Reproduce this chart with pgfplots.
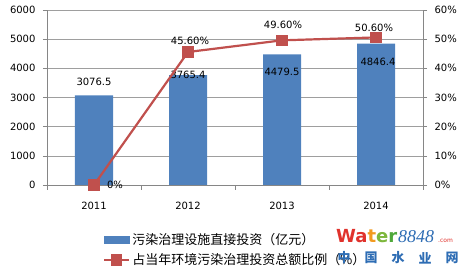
\documentclass[border=0pt]{standalone}
\usepackage{pgfplots}
\pgfplotsset{compat=1.18}
\usepackage{fontspec}
\setmainfont{DejaVu Sans}
\newfontfamily\cjk{Noto Sans CJK SC}
\newfontfamily\serifit{Liberation Serif}
\definecolor{barblue}{HTML}{4F81BD}
\definecolor{linered}{HTML}{C0504D}
\definecolor{axgray}{HTML}{868686}
\definecolor{wmred}{HTML}{E0322C}
\definecolor{wmorange}{HTML}{F29A1F}
\definecolor{wmgreen}{HTML}{7DB73C}
\definecolor{wmgreen2}{HTML}{4FA83A}
\definecolor{wmblue}{HTML}{2E6DB4}
\pgfplotsset{
  common/.style={
    at={(47pt,90pt)}, anchor=south west, scale only axis,
    width=376pt, height=175pt,
    xmin=0.5, xmax=4.5,
    clip=false,
    axis line style={axgray,-,line width=0.6pt},
    tick style={axgray,line width=0.6pt},
    tick align=outside,
    major tick length=4pt,
    /pgf/number format/assume math mode=true,
    tick label style={font=\fontsize{10}{12}\selectfont, text=black},
  }
}
\begin{document}
\begin{tikzpicture}[x=1pt,y=1pt]
\path[use as bounding box] (0,0) rectangle (465,275);
\begin{axis}[common,
  ymin=0, ymax=6000,
  ytick={0,1000,...,6000},
  xtick={1,2,3,4}, xticklabels={2011,2012,2013,2014},
  minor xtick={0.5,1.5,2.5,3.5,4.5},
  minor tick length=5pt,
  major x tick style={draw=none},
  axis x line*=bottom, axis y line*=left,
  ymajorgrids, grid style={axgray!80, line width=0.5pt},
  yticklabel style={xshift=-4pt},
  xticklabel style={yshift=-10pt},
  scaled y ticks=false,
  yticklabel={\pgfmathprintnumber[fixed,1000 sep={}]{\tick}},
]
\addplot[ybar, bar width=38pt, fill=barblue, draw=none] coordinates {(1,3076.5)(2,3765.4)(3,4479.5)(4,4846.4)};
\node[font=\fontsize{10}{12}\selectfont] at (axis cs:1,3076.5) [yshift=13pt] {3076.5};
\node[font=\fontsize{10}{12}\selectfont] at (axis cs:2,3765.4) [yshift=0pt] {3765.4};
\node[font=\fontsize{10}{12}\selectfont] at (axis cs:3,4479.5) [yshift=-18pt] {4479.5};
\node[font=\fontsize{10}{12}\selectfont] at (axis cs:4,4846.4) [yshift=-18pt, xshift=2pt] {4846.4};
\end{axis}
\begin{axis}[common,
  ymin=0, ymax=60,
  ytick={0,10,...,60},
  yticklabel={\pgfmathprintnumber{\tick}\%},
  axis y line*=right, axis x line=none,
  yticklabel style={xshift=4pt},
  legend style={at={(0.149,-0.262)}, anchor=north west, draw=none, fill=none,
    font=\cjk\fontsize{13}{15}\selectfont, row sep=4pt, inner sep=0pt,
    nodes={inner sep=2pt}},
  legend cell align=left,
]
\addlegendimage{legend image code/.code={\fill[barblue] (0pt,-3.5pt) rectangle (25pt,3.5pt);}}
\addlegendentry{污染治理设施直接投资（亿元）}
\addplot[linered, line width=2.2pt, mark=square*, mark size=4.5pt,
  mark options={fill=linered, draw=none},
  legend image code/.code={\draw[linered,line width=2.2pt] (0pt,0pt) -- (25pt,0pt); \fill[linered] (8pt,-4.5pt) rectangle (17pt,4.5pt);}]
  coordinates {(1,0)(2,45.6)(3,49.6)(4,50.6)};
\addlegendentry{占当年环境污染治理投资总额比例（\%）}
\node[font=\fontsize{10}{12}\selectfont] at (axis cs:2,45.6) [yshift=11pt, xshift=2pt] {45.60\%};
\node[font=\fontsize{10}{12}\selectfont] at (axis cs:3,49.6) [yshift=15pt, xshift=1pt] {49.60\%};
\node[font=\fontsize{10}{12}\selectfont] at (axis cs:4,50.6) [yshift=10pt, xshift=-2pt] {50.60\%};
\node[font=\fontsize{10}{12}\selectfont] at (axis cs:1,0) [yshift=0pt, xshift=21pt] {0\%};
\end{axis}
% watermark
\node[anchor=base west, inner sep=0pt, font=\bfseries\fontsize{18}{18}\selectfont] at (336,32)
  {\textcolor{wmred}{Wa}\textcolor{wmorange}{t}\textcolor{wmgreen}{e}\textcolor{wmgreen2}{r}};
\node[anchor=base west, inner sep=0pt, font=\serifit\itshape\fontsize{18}{18}\selectfont, text=wmblue] at (398,32) {8848};
\node[anchor=base west, inner sep=0pt, font=\fontsize{6}{6}\selectfont, text=wmred] at (438,32) {.com};
\foreach \c/\xx in {中/344,国/371,水/398,业/425,网/452}
  \node[inner sep=0pt, font=\cjk\bfseries\fontsize{13}{13}\selectfont, text=wmblue] at (\xx,17) {\c};
\end{tikzpicture}
\end{document}
